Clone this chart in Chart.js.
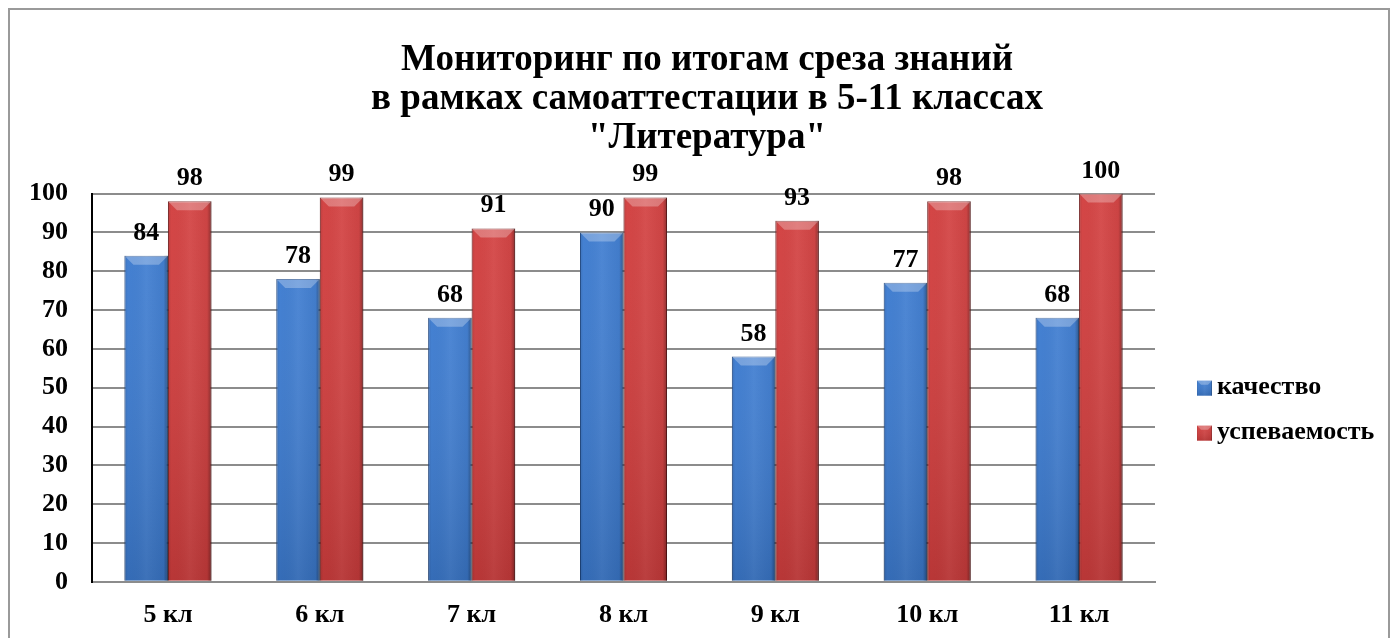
<!DOCTYPE html>
<html>
<head>
<meta charset="utf-8">
<script src="https://cdn.jsdelivr.net/npm/chart.js@4"></script>
<style>
  body { margin: 0; background: #fff; }
  #wrap { position: relative; width: 1397px; height: 638px; }
  #frame { position: absolute; left: 8px; top: 8px; width: 1382px; height: 640px; border: 2px solid #9a9a9a; box-sizing: border-box; }
  canvas { position: absolute; left: 0; top: 0; }
</style>
</head>
<body>
<div id="wrap">
  <div id="frame"></div>
  <canvas id="chart" width="1397" height="638"></canvas>
</div>
<script>
const categories = ['5 кл', '6 кл', '7 кл', '8 кл', '9 кл', '10 кл', '11 кл']
const quality = [84, 78, 68, 90, 58, 77, 68]
const progress = [98, 99, 91, 99, 93, 98, 100]
const titleLines = ['Мониторинг по итогам среза знаний', 'в рамках самоаттестации в 5-11 классах', '"Литература"']

const serif = "'Liberation Serif', 'Times New Roman', serif"
const blue = '#3c7bd0'
const red = '#d23e3e'

function shine(ctx, left, top, width, height, bevel) {
  const right = left + width
  const g = ctx.createLinearGradient(left, 0, right, 0)
  g.addColorStop(0, 'rgba(0,0,0,0.12)')
  g.addColorStop(0.08, 'rgba(0,0,0,0)')
  g.addColorStop(0.5, 'rgba(255,255,255,0.05)')
  g.addColorStop(0.9, 'rgba(0,0,0,0.04)')
  g.addColorStop(1, 'rgba(0,0,0,0.35)')
  ctx.fillStyle = g
  ctx.fillRect(left, top, width, height)
  const v = ctx.createLinearGradient(0, top, 0, top + height)
  v.addColorStop(0, 'rgba(255,255,255,0.04)')
  v.addColorStop(1, 'rgba(0,0,0,0.12)')
  ctx.fillStyle = v
  ctx.fillRect(left, top, width, height)
  ctx.fillStyle = 'rgba(255,255,255,0.28)'
  ctx.beginPath()
  ctx.moveTo(left, top)
  ctx.lineTo(right, top)
  ctx.lineTo(right - bevel, top + bevel)
  ctx.lineTo(left + bevel, top + bevel)
  ctx.closePath()
  ctx.fill()
}

const barShine = {
  id: 'barShine',
  afterDatasetsDraw(chart) {
    const ctx = chart.ctx
    chart.data.datasets.forEach((ds, i) => {
      chart.getDatasetMeta(i).data.forEach((bar) => {
        ctx.save()
        shine(ctx, bar.x - bar.width / 2, bar.y, bar.width, bar.base - bar.y, 9)
        ctx.restore()
      })
    })
  },
}

const valueLabels = {
  id: 'valueLabels',
  afterDraw(chart) {
    const ctx = chart.ctx
    ctx.save()
    ctx.font = 'bold 26px ' + serif
    ctx.fillStyle = '#000'
    ctx.textAlign = 'center'
    ctx.textBaseline = 'alphabetic'
    chart.data.datasets.forEach((ds, i) => {
      chart.getDatasetMeta(i).data.forEach((bar, j) => {
        ctx.fillText(String(ds.data[j]), bar.x, bar.y - 16)
      })
    })
    ctx.restore()
  },
}

// legend drawn in the space kept free by the empty right axis
const sideLegend = {
  id: 'sideLegend',
  afterDraw(chart) {
    const ctx = chart.ctx
    const area = chart.chartArea
    const x = area.right + 42
    const mid = (area.top + area.bottom) / 2
    ctx.save()
    ctx.font = 'bold 26px ' + serif
    ctx.textBaseline = 'middle'
    ctx.textAlign = 'left'
    chart.data.datasets.forEach((ds, i) => {
      const y = mid + i * 45
      ctx.fillStyle = ds.backgroundColor
      ctx.fillRect(x, y - 7, 15, 15)
      shine(ctx, x, y - 7, 15, 15, 4)
      ctx.fillStyle = '#000'
      ctx.fillText(ds.label, x + 20, y)
    })
    ctx.restore()
  },
}

new Chart(document.getElementById('chart'), {
  type: 'bar',
  data: {
    labels: categories,
    datasets: [
      {
        label: 'качество',
        data: quality,
        backgroundColor: blue,
        borderColor: '#234f90',
        borderWidth: 1,
        categoryPercentage: 0.573,
        barPercentage: 1,
      },
      {
        label: 'успеваемость',
        data: progress,
        backgroundColor: red,
        borderColor: '#7a1a1a',
        borderWidth: 1,
        categoryPercentage: 0.573,
        barPercentage: 1,
      },
    ],
  },
  options: {
    responsive: false,
    animation: false,
    layout: { padding: { top: 41, left: 5, right: -12, bottom: -11 } },
    plugins: {
      title: {
        display: true,
        text: titleLines,
        color: '#000',
        font: { family: serif, size: 37, weight: 'bold', lineHeight: 1.05 },
        padding: { top: 0, bottom: 36 },
      },
      legend: { display: false },
      tooltip: { enabled: false },
    },
    scales: {
      x: {
        grid: { display: false, drawTicks: false },
        border: { color: '#8c8c8c', width: 2 },
        ticks: { color: '#000', padding: 18, font: { family: serif, size: 26, weight: 'bold' } },
      },
      y: {
        min: 0,
        max: 100,
        ticks: { stepSize: 10, color: '#000', padding: 24, font: { family: serif, size: 26, weight: 'bold' } },
        grid: { color: '#8c8c8c', lineWidth: 2, drawTicks: false },
        border: { color: '#000', width: 2 },
      },
      side: {
        position: 'right',
        grid: { display: false },
        border: { display: false },
        ticks: { display: false },
        afterFit(scale) {
          scale.width = 254
        },
      },
    },
  },
  plugins: [barShine, valueLabels, sideLegend],
})
</script>
</body>
</html>
